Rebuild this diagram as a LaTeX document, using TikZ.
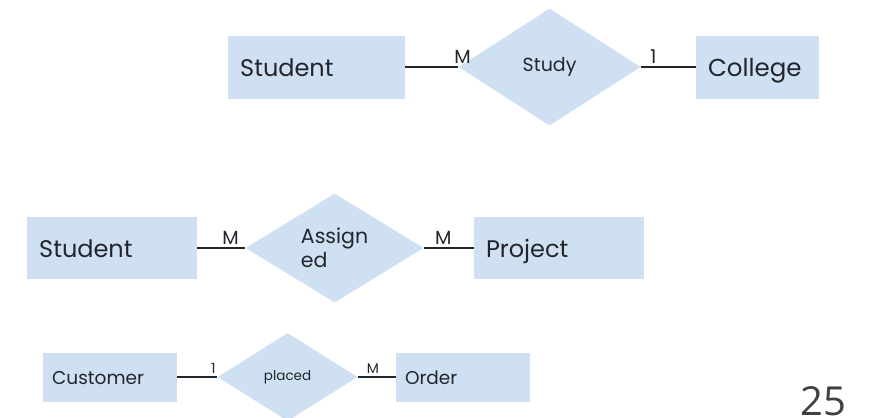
\documentclass[tikz,border=0pt]{standalone}
\usepackage{xcolor}
\usepackage{fontspec}
\setmainfont{Poppins}
\newfontfamily\pagenofont{Open Sans}
\usepackage{tikz}
\usetikzlibrary{positioning, shapes.geometric}

\definecolor{erblue}{RGB}{207,224,242}
\definecolor{erink}{RGB}{34,38,44}

\begin{document}
\begin{tikzpicture}[x=1pt, y=-1pt, text=erink,
        entity/.style={fill=erblue, align=left, inner xsep=12pt, inner ysep=0pt, text height=18pt, text depth=0pt},
        relation/.style={diamond, fill=erblue, inner sep=0pt, align=left},
        conn/.style={draw=erink, line width=1.6pt},
        card/.style={above, inner sep=3pt}]
                \useasboundingbox (0,0) rectangle (879,418);
                \clip (0,0) rectangle (879,418);
                % first row
                \node[entity, text width=153pt, minimum height=63pt, anchor=west, font=\fontsize{24}{26}\selectfont](stuA) at (228,67){Student};
                \node[relation, minimum width=182pt, minimum height=117pt, right=53pt of stuA, font=\fontsize{19}{21}\selectfont](study){Study};
                \node[entity, text width=99pt, minimum height=63pt, right=55pt of study, font=\fontsize{24.5}{26}\selectfont](college){College};
                
                \draw[conn] (stuA) -- node[card, pos=1.08, font=\fontsize{19}{20}\selectfont]{M} (study);
                \draw[conn] (study) -- node[card, pos=0.23, font=\fontsize{19}{20}\selectfont]{1} (college);
                
                % second row
                \node[entity, text width=146pt, minimum height=62pt, anchor=west, font=\fontsize{24}{26}\selectfont](stuB) at (27,248){Student};
                \node[relation, minimum width=178pt, minimum height=109pt, right=48pt of stuB, font=\fontsize{20.5}{24}\selectfont](assigned){Assign\\ed};
                \node[entity, text width=146pt, minimum height=62pt, right=50pt of assigned, font=\fontsize{24}{26}\selectfont](project){Project};
                
                \draw[conn] (stuB) -- node[card, pos=0.69, font=\fontsize{19}{20}\selectfont]{M} (assigned);
                \draw[conn] (assigned) -- node[card, pos=0.39, font=\fontsize{19}{20}\selectfont]{M} (project);
                
                % third row
                \node[entity, text width=116pt, minimum height=49pt, anchor=west, inner xsep=9pt, text height=14pt, font=\fontsize{18.5}{20}\selectfont](customer) at (43,377){Customer};
                \node[relation, minimum width=140pt, minimum height=88pt, right=40pt of customer, font=\fontsize{13.5}{15}\selectfont](placed){placed};
                \node[entity, text width=116pt, minimum height=49pt, inner xsep=9pt, text height=14pt, right=38pt of placed, font=\fontsize{18.5}{20}\selectfont](order){Order};
                
                \draw[conn] (customer) -- node[card, pos=0.9, font=\fontsize{14}{16}\selectfont]{1} (placed);
                \draw[conn] (placed) -- node[card, pos=0.4, font=\fontsize{14}{16}\selectfont]{M} (order);
                
                \node[anchor=north west, inner sep=0pt, text=black!75, font=\pagenofont\fontsize{40}{44}\selectfont](pageno) at (800,386){25};
              \end{tikzpicture}
\end{document}
